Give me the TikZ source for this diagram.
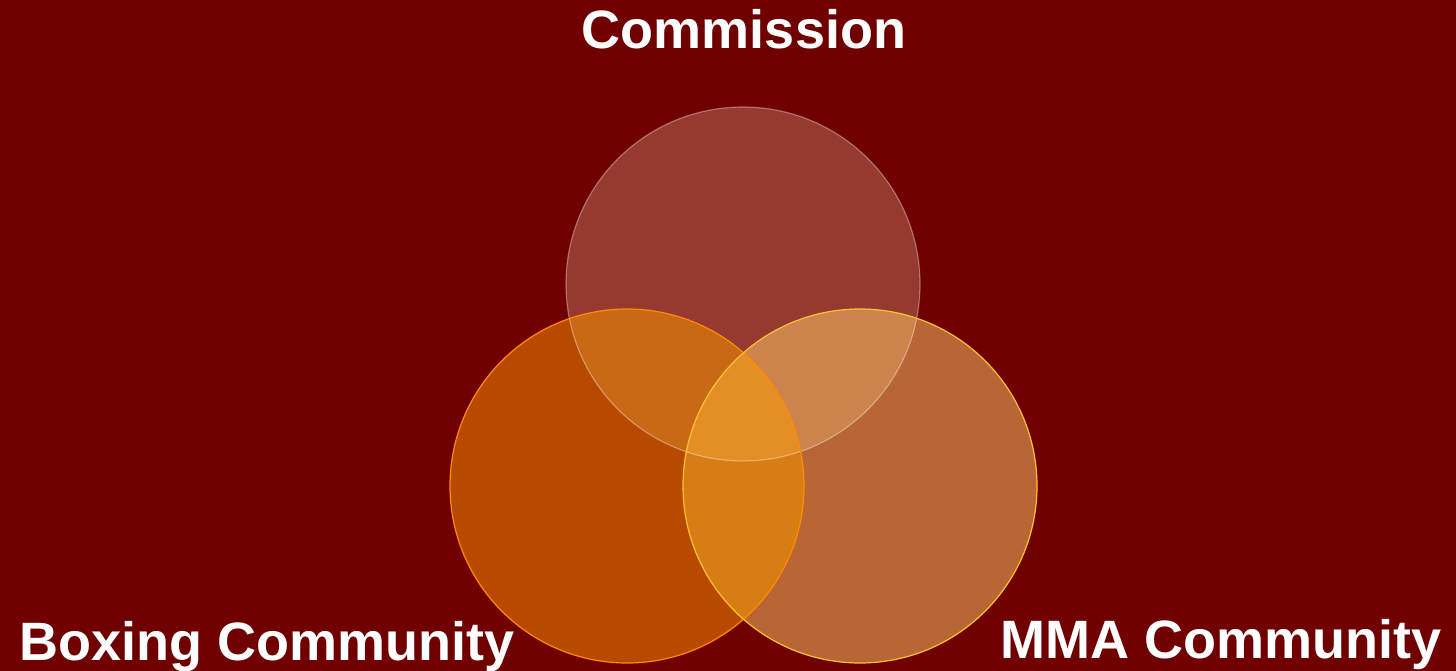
\documentclass[tikz,border=0pt]{standalone}
\usepackage{fontspec}
\setmainfont{Liberation Sans}
\usepackage{tikz}

\definecolor{bgred}{HTML}{700000}
\definecolor{comm}{HTML}{963A31}
\definecolor{boxing}{HTML}{B84A00}
\definecolor{mma}{HTML}{B86636}
\definecolor{boxcomm}{HTML}{C96815}
\definecolor{mmacomm}{HTML}{CC834C}
\definecolor{boxmma}{HTML}{D87C14}
\definecolor{allthree}{HTML}{E38F25}

\begin{document}
\begin{tikzpicture}[x=1pt,y=-1pt,
    label/.style={text=white,font=\fontsize{54}{60}\selectfont\bfseries,anchor=base,inner sep=0pt}]
    \fill[bgred] (0,0) rectangle (1456,671);
    \useasboundingbox (0,0) rectangle (1456,671);

    \coordinate (commc) at (743,284);
    \coordinate (boxc) at (627,486);
    \coordinate (mmac) at (860,486);
    \def\rad{177pt}

    % plain circles
    \fill[comm] (commc) circle (\rad);
    \fill[boxing] (boxc) circle (\rad);
    \fill[mma] (mmac) circle (\rad);

    % overlaps
    \begin{scope}
        \clip (commc) circle (\rad);
        \fill[boxcomm] (boxc) circle (\rad);
        \fill[mmacomm] (mmac) circle (\rad);
    \end{scope}
    \begin{scope}
        \clip (boxc) circle (\rad);
        \fill[boxmma] (mmac) circle (\rad);
        \clip (commc) circle (\rad);
        \fill[allthree] (mmac) circle (\rad);
    \end{scope}

    % outlines
    \draw[white,opacity=0.35,line width=1.2pt] (commc) circle (\rad);
    \draw[orange!90!yellow,line width=1.2pt] (boxc) circle (\rad);
    \draw[orange!60!yellow!80!white,line width=1.2pt] (mmac) circle (\rad);

    \node[label] (commission) at (744,49) {Commission};
    \node[label] (boxinglabel) at (267,660) {Boxing Community};
    \node[label] (mmalabel) at (1221,658) {MMA Community};
\end{tikzpicture}
\end{document}
